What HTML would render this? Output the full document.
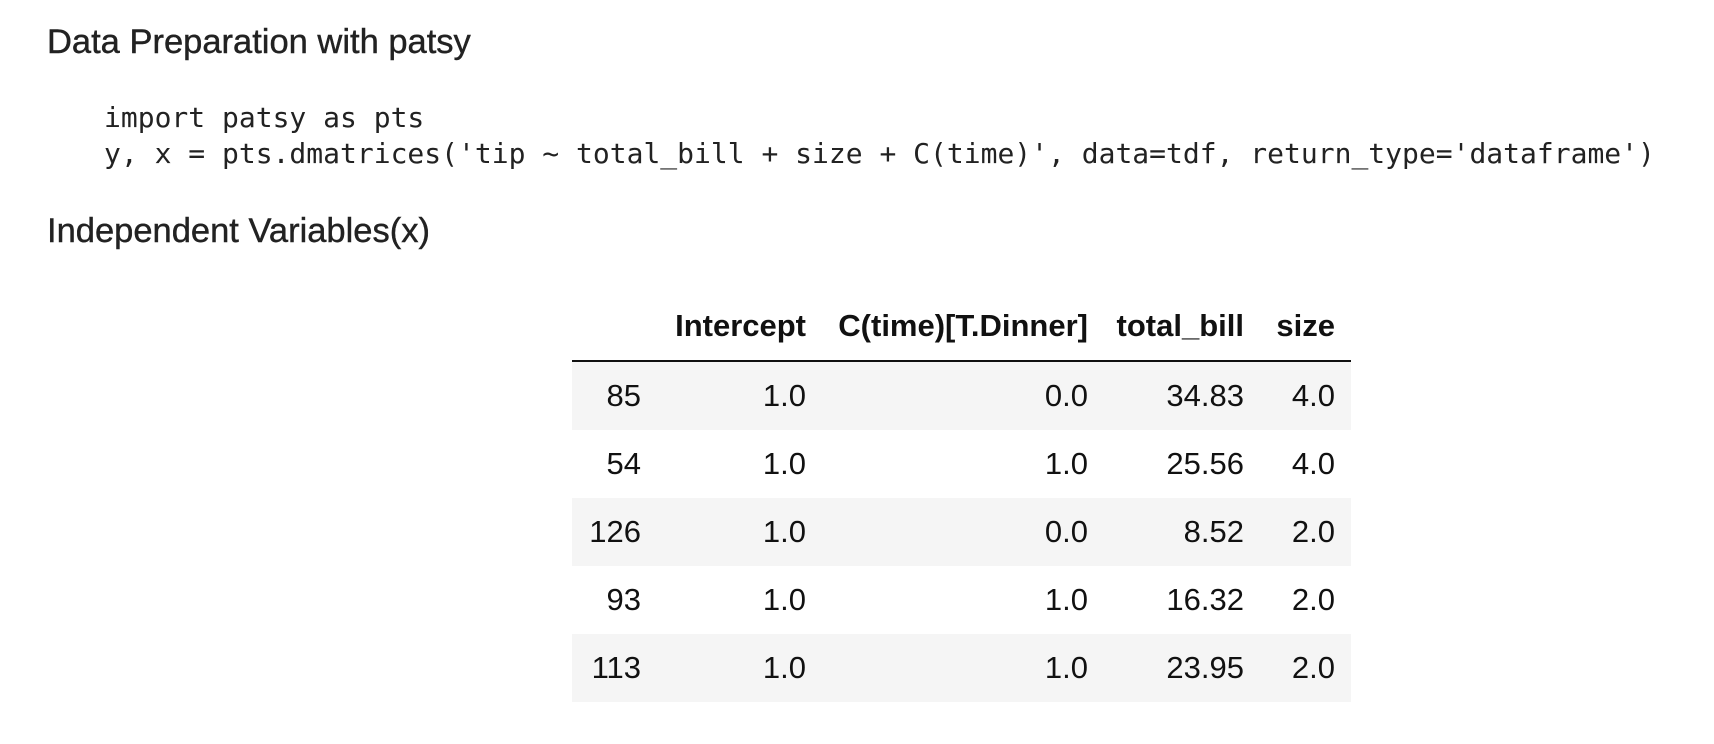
<!DOCTYPE html>
<html><head><meta charset="utf-8"><style>
body{margin:0;width:1714px;height:744px;background:#fff;position:relative;overflow:hidden;color:#222;font-family:"Liberation Sans",sans-serif}
.h{position:absolute;left:47px;font-size:34.5px;line-height:40px;margin:0;font-weight:normal;-webkit-text-stroke:0.4px #222}
pre{position:absolute;left:104px;top:100px;margin:0;font-family:"DejaVu Sans Mono","Liberation Mono",monospace;font-size:28px;line-height:36px;color:#222}
.tbl{position:absolute;left:572px;top:300px;width:779px}
.row{position:absolute;left:0;width:779px;height:68px}
.c{position:absolute;top:0;line-height:68px;font-size:31px;text-align:right;color:#111}
.hd .c{font-weight:bold;font-size:31px;line-height:52px}
</style></head><body>
<h2 class="h" style="top:22px">Data Preparation with patsy</h2>
<pre>import patsy as pts
y, x = pts.dmatrices('tip ~ total_bill + size + C(time)', data=tdf, return_type='dataframe')</pre>
<h2 class="h" style="top:211px">Independent Variables(x)</h2>
<div class="tbl" id="t">
<div class="row hd" style="top:0;height:60px;border-bottom:2px solid #111">
<div class="c" style="right:545px">Intercept</div>
<div class="c" style="right:263px">C(time)[T.Dinner]</div>
<div class="c" style="right:107px">total_bill</div>
<div class="c" style="right:16px">size</div>
</div>
</div>
<script>
const idx=['85','54','126','93','113'];
const intercept=['1.0','1.0','1.0','1.0','1.0'];
const dinner=['0.0','1.0','0.0','1.0','1.0'];
const bill=['34.83','25.56','8.52','16.32','23.95'];
const sizes=['4.0','4.0','2.0','2.0','2.0'];
const t=document.getElementById('t');
const rights=[710,545,263,107,16];
for(let i=0;i<idx.length;i++){
  const r=document.createElement('div');
  r.className='row';
  
  
  r.style.top=(62+i*68)+'px';
  r.style.background=i%2===0?'#f5f5f5':'#fff';
  const vals=[idx[i],intercept[i],dinner[i],bill[i],sizes[i]];
  for(let j=0;j<5;j++){
    const c=document.createElement('div');
    c.className='c';
    
    
    c.style.right=rights[j]+'px';
    c.textContent=vals[j];
    r.appendChild(c);
  }
  t.appendChild(r);
}
</script>
</body></html>
